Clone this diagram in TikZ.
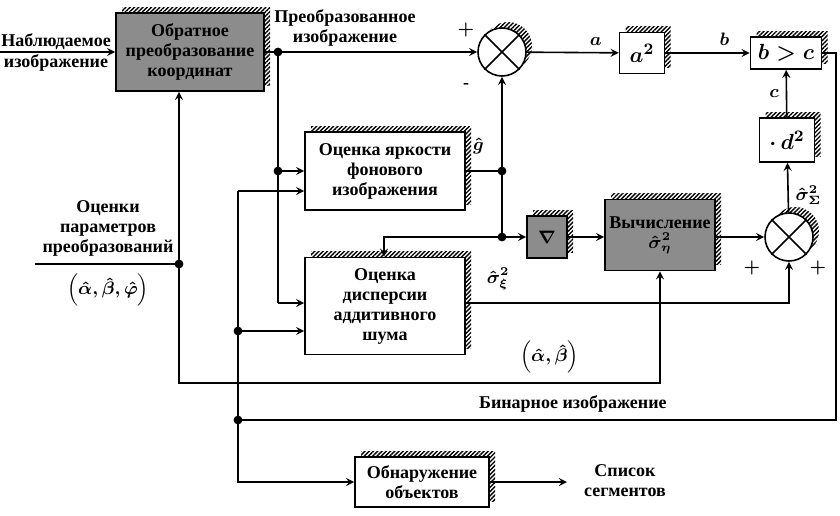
\documentclass[tikz,border=0pt]{standalone}
\usepackage{amsmath}
\usepackage{fontspec}
\setmainfont{Liberation Serif}
\usepackage{tikz}
\usetikzlibrary{shadows,patterns.meta}

\begin{document}
\begin{tikzpicture}[>=stealth, x=0.5pt, y=-0.5pt, line width=0.8pt,
  font=\fontsize{9}{10}\selectfont\bfseries\boldmath,
  hatch/.style={general shadow={shadow xshift=3pt, shadow yshift=3pt,
    pattern={Lines[angle=45, distance=1.5pt, line width=0.7pt]}}},
  blk/.style={draw, fill=white, align=center, inner sep=1pt, hatch},
  darkblk/.style={blk, fill=black!45},
  mathblk/.style={blk, font=\fontsize{11}{12}\selectfont\boldmath},
  summer/.style={draw, fill=white, circle, minimum size=24pt, inner sep=0pt, hatch}]
  \useasboundingbox (0,0) rectangle (840,515);
  % ------- blocks -------
  \node[darkblk, minimum width=74pt, minimum height=39pt] (inv) at (190,52) {Обратное\\преобразование\\координат};
  \node[summer] (sum1) at (502,52) {};
  \draw (sum1.north west) -- (sum1.south east) (sum1.north east) -- (sum1.south west);
  \node[mathblk, minimum width=22.5pt, minimum height=20.5pt] (sq) at (642,53) {$a^2$};
  \node[mathblk, minimum width=35.5pt, minimum height=16pt] (cmp) at (786,53) {$b>c$};
  \node[mathblk, minimum width=27.5pt, minimum height=22pt] (mul) at (787,140) {$\cdot\, d^2$};
  \node[summer] (sum2) at (789,237) {};
  \draw (sum2.north west) -- (sum2.south east) (sum2.north east) -- (sum2.south west);
  \node[darkblk, minimum width=55pt, minimum height=35.5pt] (calc) at (660,235) {Вычисление\\$\hat\sigma^2_\eta$};
  \node[darkblk, minimum width=20pt, minimum height=21pt] (grad) at (547,237) {$\nabla$};
  \node[blk, minimum width=80pt, minimum height=39pt] (bg) at (385,171) {Оценка яркости\\фонового\\изображения};
  \node[blk, minimum width=80pt, minimum height=48.5pt] (noise) at (385,306) {Оценка\\дисперсии\\аддитивного\\шума};
  \node[blk, minimum width=67pt, minimum height=25pt] (det) at (422,482) {Обнаружение\\объектов};
  % ------- branch points -------
  \coordinate (in0) at (0,52);
  \coordinate (j1) at (278,52);
  \coordinate (j2) at (278,171);
  \coordinate (k1) at (278,303);
  \coordinate (v0) at (238,191);
  \coordinate (jv) at (238,331);
  \coordinate (jb) at (238,420);
  \coordinate (jg) at (502,171);
  \coordinate (jg2) at (502,237);
  \coordinate (k2) at (384,237);
  \coordinate (k3) at (789,303);
  \coordinate (p0) at (35,264);
  \coordinate (jp) at (179,264);
  \coordinate (k4) at (179,383);
  \coordinate (k5) at (660,383);
  \coordinate (r1) at (836,53);
  \coordinate (r2) at (836,420);
  \coordinate (out) at (567,482);
  % ------- main path -------
  \draw[->] (in0) -- (inv);
  \draw (inv) -- (j1);
  \draw[->] (j1) -- (sum1);
  \draw[->] (sum1) -- node[above, pos=0.75] (la) {$a$} (sq);
  \draw[->] (sq) -- node[above, pos=0.7] (lb) {$b$} (cmp);
  \draw[->] (mul) -- node[left] (lc) {$c$} (cmp);
  \draw[->] (sum2) -- node[right, pos=0.35] (ls) {$\hat\sigma^2_\Sigma$} (mul);
  \draw (cmp) -- (r1) -- (r2) -- node[above, pos=0.44] (lbin) {Бинарное изображение} (jb);
  % ------- estimators -------
  \draw (j1) -- (j2) -- (k1);
  \draw[->] (j2) -- (bg);
  \draw[->] (k1) -- (k1 -| noise.west);
  \draw[->] (v0) -- (v0 -| bg.west);
  \draw[->] (v0) |- (det);
  \draw[->] (jv) -- (jv -| noise.west);
  \draw (bg) -- node[above=5pt, pos=0.35] (lg) {$\hat g$} (jg);
  \draw[->] (jg2) -- (sum1);
  \draw[->] (jg2) -- (k2) -- (k2 |- noise.north);
  \draw[->] (jg2) -- (grad);
  \draw[->] (grad) -- (calc.west |- grad);
  \draw[->] (calc.east |- sum2) -- (sum2);
  \draw[->] (noise.east |- k3) -- node[above=3pt, pos=0.1] (lxi) {$\hat\sigma^2_\xi$} (k3) -- (sum2);
  % ------- parameters -------
  \draw (p0) -- (jp);
  \draw[->] (jp) -- (jp |- inv.south);
  \draw[->] (jp) -- (k4) -- node[above=1pt, pos=0.77] (lab) {$\Bigl(\hat\alpha,\hat\beta\Bigr)$} (k5) -- (calc);
  \draw[->] (det) -- (out);
  \foreach \c in {j1,j2,jv,jb,jg,jg2,jp} \fill (\c) circle (2.2pt);
  % ------- labels -------
  \node (obs1) at (56,42) {Наблюдаемое};
  \node (obs2) at (56,63) {изображение};
  \node[align=center] (trn) at (345,28) {Преобразованное\\изображение};
  \node[align=center] (prm) at (108,228) {Оценки\\параметров\\преобразований};
  \node (prmv) at (108,290) {$\Bigl(\hat\alpha,\hat\beta,\hat\varphi\Bigr)$};
  \node[align=center] (lst) at (625,481) {Список\\сегментов};
  \node (pl1) at (466,30) {$+$};
  \node (mn1) at (466,86) {-};
  \node (pl2) at (752,268) {$+$};
  \node (pl3) at (818,268) {$+$};
\end{tikzpicture}
\end{document}
